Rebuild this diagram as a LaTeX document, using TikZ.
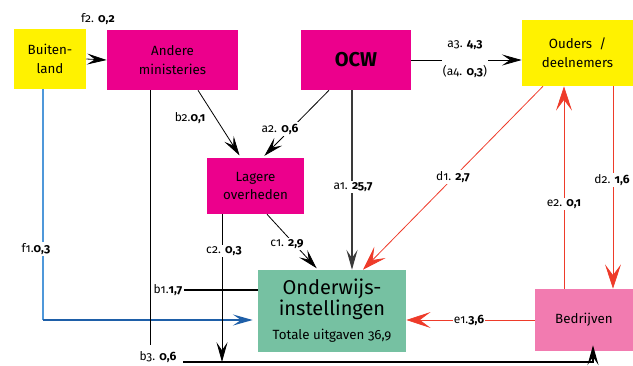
\documentclass[tikz,border=0pt]{standalone}
\usepackage{fontspec}
\setmainfont{Fira Sans}[Numbers=OldStyle]
\usetikzlibrary{arrows.meta,calc}

\definecolor{geel}{HTML}{FFF200}
\definecolor{paars}{HTML}{EC008C}
\definecolor{groen}{HTML}{76C1A2}
\definecolor{roze}{HTML}{F27BB0}
\definecolor{rood}{HTML}{EE3B2A}
\definecolor{lichtblauw}{HTML}{4F98DA}
\definecolor{donkerblauw}{HTML}{1E5FA8}
\definecolor{grijs}{HTML}{3A3A3A}

\begin{document}
\begin{tikzpicture}[
  x=0.75pt, y=-0.75pt,
  >={Stealth[length=5.2mm,width=2.9mm,inset=2.1mm]},
  box/.style={inner sep=0pt, align=center, font=\fontsize{10}{14}\selectfont},
  lbl/.style={font=\fontsize{9}{11}\selectfont, fill=white, inner sep=1pt},
  every edge/.style={
    draw,
    ->,
    line width=0.6pt
  },
  roodpijl/.style={draw=rood, -{Stealth[length=6.4mm,width=4.2mm,inset=2.8mm]}}
]

  \useasboundingbox (0,0) rectangle (633,365);

  % Actors
  \node[box, fill=geel, minimum width=54pt, minimum height=45pt] (buitenland) at (50,59) {Buiten-\\land};
  \node[box, fill=paars, minimum width=98.25pt, minimum height=45pt] (andere) at (172.5,60) {Andere\\ministeries};
  \node[box, fill=paars, minimum width=82.5pt, minimum height=45pt,
        font=\fontsize{15}{16}\selectfont\bfseries] (ocw) at (356,60) {OCW};
  \node[box, fill=geel, minimum width=83.25pt, minimum height=49.5pt] (ouders) at (577.5,53) {Ouders\ \ /\\deelnemers};
  \node[box, fill=paars, minimum width=72.75pt, minimum height=42pt] (lagere) at (255.5,186) {Lagere\\overheden};
  \node[box, fill=groen, minimum width=111pt, minimum height=61.5pt,
        font=\fontsize{15}{15.75}\selectfont] (onderwijs) at (332,311)
        {Onderwijs-\\instellingen\\[2.25pt]\fontsize{10}{15.75}\selectfont Totale uitgaven 36,9};
  \node[box, fill=roze, minimum width=73.5pt, minimum height=46.5pt] (bedrijven) at (584,320) {Bedrijven};

  % Labels at the ends of lines
  \node[lbl] (b1l) at (168,290) {b1.\textbf{1,7}};
  \node[lbl] (b3l) at (158,357) {b3. \textbf{0,6}};
  \coordinate (b3start) at (183,362);

  % Buitenland
  \path (buitenland.east) edge (andere.west);
  \coordinate (f1hoek) at (43,320);
  \draw[draw=lichtblauw, line width=0.8pt] ($(buitenland.south)+(-7,0)$) -- (f1hoek);
  \path (f1hoek) edge[draw=donkerblauw, line width=1.2pt, shorten >=3.75pt] (f1hoek -| onderwijs.west);

  % Andere ministeries
  \path ($(andere.south)+(25.5,0)$) edge[shorten >=2pt] ($(lagere.north)+(-14.5,0)$);
  \coordinate (andereeind) at (150,345);
  \draw[line width=0.6pt] ($(andere.south)+(-22.5,0)$) -- (andereeind);
  \path (b1l.east) edge[-, line width=1.2pt] (b1l.east -| onderwijs.west);
  \draw[->, line width=1.2pt, shorten >=-4.5pt] (b3start) -| ($(bedrijven.south)+(9,0)$);

  % OCW
  \path (ocw.east) edge (ocw.east -| ouders.west);
  \path ($(ocw.south)+(-27,0)$) edge[shorten >=2pt] ($(lagere.north)+(7,0)$);
  \path ($(ocw.south)+(-4,0)$) edge[draw=grijs, line width=0.8pt] ($(onderwijs.north)+(20,0)$);

  % Lagere overheden
  \path ($(lagere.south)+(11.5,0)$) edge[shorten >=1.5pt] ($(onderwijs.north)+(-14,0)$);
  \coordinate (c2top) at ($(lagere.south)+(-33.5,0)$);
  \path (c2top) edge (c2top |- b3start);

  % Ouders / deelnemers
  \path ($(ouders.south)+(-34.5,0)$) edge[roodpijl] ($(onderwijs.north)+(31,0)$);
  \path ($(ouders.south)+(35.5,0)$) edge[roodpijl] ($(bedrijven.north)+(29,0)$);

  % Bedrijven
  \path ($(bedrijven.north)+(-20,0)$) edge[roodpijl] ($(ouders.south)+(-13.5,0)$);
  \path (bedrijven.west) edge[roodpijl] (bedrijven.west -| onderwijs.east);

  % Amounts on the lines
  \node[lbl] (f2l) at (98,19) {f2. \textbf{0,2}};
  \node[lbl] (f1l) at (36,249) {f1.\textbf{0,3}};
  \node[lbl] (b2l) at (190,118) {b2.\textbf{0,1}};
  \node[lbl] (a2l) at (280,129) {a2. \textbf{0,6}};
  \node[lbl, align=center] (a3l) at (465,59) {a3. \textbf{4,3}\\[10pt](a4. \textbf{0,3})};
  \node[lbl] (a1l) at (353,187) {a1. \textbf{25,7}};
  \node[lbl] (c1l) at (287,244) {c1. \textbf{2,9}};
  \node[lbl] (c2l) at (224,251) {c2. \textbf{0,3}};
  \node[lbl] (d1l) at (453,177) {d1. \textbf{2,7}};
  \node[lbl] (d2l) at (612,180) {d2. \textbf{1,6}};
  \node[lbl] (e2l) at (564,204) {e2. \textbf{0,1}};
  \node[lbl] (e1l) at (469,320) {e1.\textbf{3,6}};

\end{tikzpicture}
\end{document}
